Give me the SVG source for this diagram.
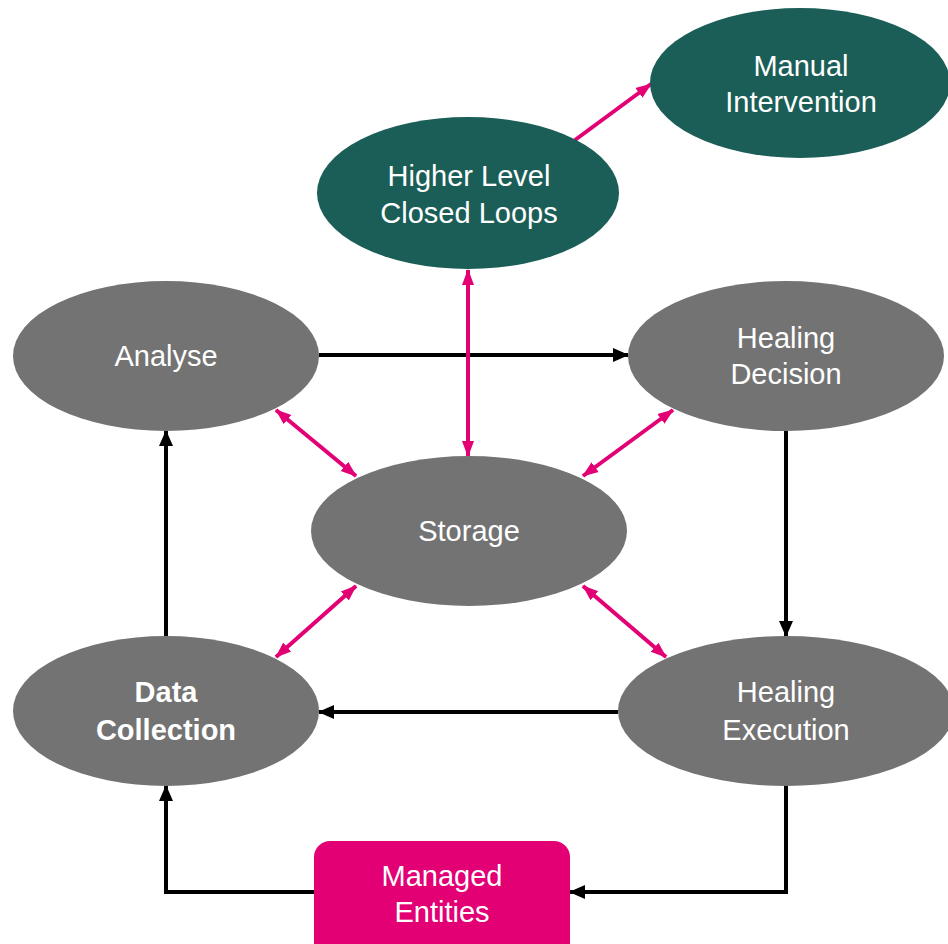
<svg xmlns="http://www.w3.org/2000/svg" width="948" height="944" viewBox="0 0 948 944">
  <style>
    .grey { fill: #737373; }
    .teal { fill: #1b5e57; }
    .pink { fill: #e20074; }
    .label { fill: #ffffff; font-family: "Liberation Sans Narrow", "Liberation Sans", Arial, sans-serif; font-size: 29px; text-anchor: middle; }
    .bold { font-weight: bold; }
    .flow { fill: none; stroke: #000000; stroke-width: 4; }
    .link { fill: none; stroke: #e20074; stroke-width: 4; }
  </style>
  <defs>
    <marker id="arrowBlack" markerUnits="userSpaceOnUse" markerWidth="16" markerHeight="16" viewBox="0 0 16 16" refX="15" refY="8" orient="auto">
      <path d="M0,1 L16,8 L0,15 Z" fill="#000000"/>
    </marker>
    <marker id="arrowPink" markerUnits="userSpaceOnUse" markerWidth="16" markerHeight="14" viewBox="0 0 16 14" refX="15" refY="7" orient="auto-start-reverse">
      <path d="M0,1 L16,7 L0,13 Z" fill="#e20074"/>
    </marker>
  </defs>

  <g id="connectors">
    <!-- main healing loop -->
    <line class="flow" x1="319" y1="355" x2="628" y2="355" marker-end="url(#arrowBlack)"/>
    <line class="flow" x1="786" y1="431" x2="786" y2="636" marker-end="url(#arrowBlack)"/>
    <line class="flow" x1="618" y1="712" x2="319" y2="712" marker-end="url(#arrowBlack)"/>
    <line class="flow" x1="166" y1="636" x2="166" y2="431" marker-end="url(#arrowBlack)"/>
    <polyline class="flow" points="786,786 786,892 570,892" marker-end="url(#arrowBlack)"/>
    <polyline class="flow" points="314,892 166,892 166,786" marker-end="url(#arrowBlack)"/>
    <!-- storage links -->
    <line class="link" x1="468" y1="270" x2="468" y2="456" marker-start="url(#arrowPink)" marker-end="url(#arrowPink)"/>
    <line class="link" x1="276" y1="410" x2="356" y2="476" marker-start="url(#arrowPink)" marker-end="url(#arrowPink)"/>
    <line class="link" x1="673" y1="410" x2="583" y2="476" marker-start="url(#arrowPink)" marker-end="url(#arrowPink)"/>
    <line class="link" x1="356" y1="586" x2="276" y2="657" marker-start="url(#arrowPink)" marker-end="url(#arrowPink)"/>
    <line class="link" x1="583" y1="586" x2="666" y2="657" marker-start="url(#arrowPink)" marker-end="url(#arrowPink)"/>
    <line class="link" x1="575" y1="140" x2="651" y2="84" marker-end="url(#arrowPink)"/>
  </g>

  <g id="manual-intervention">
    <ellipse class="teal" cx="800" cy="83" rx="150" ry="75"/>
    <text class="label" x="801" y="76">Manual</text>
    <text class="label" x="801" y="112">Intervention</text>
  </g>
  <g id="higher-level-closed-loops">
    <ellipse class="teal" cx="468" cy="193" rx="151" ry="76"/>
    <text class="label" x="469" y="186">Higher Level</text>
    <text class="label" x="469" y="223">Closed Loops</text>
  </g>
  <g id="analyse">
    <ellipse class="grey" cx="166" cy="356" rx="153" ry="75"/>
    <text class="label" x="166" y="366">Analyse</text>
  </g>
  <g id="healing-decision">
    <ellipse class="grey" cx="786" cy="356" rx="158" ry="75"/>
    <text class="label" x="786" y="348">Healing</text>
    <text class="label" x="786" y="384">Decision</text>
  </g>
  <g id="storage">
    <ellipse class="grey" cx="469" cy="531" rx="158" ry="75"/>
    <text class="label" x="469" y="541">Storage</text>
  </g>
  <g id="data-collection">
    <ellipse class="grey" cx="166" cy="711" rx="153" ry="75"/>
    <text class="label bold" x="166" y="702">Data</text>
    <text class="label bold" x="166" y="740">Collection</text>
  </g>
  <g id="healing-execution">
    <ellipse class="grey" cx="786" cy="711" rx="168" ry="75"/>
    <text class="label" x="786" y="702">Healing</text>
    <text class="label" x="786" y="740">Execution</text>
  </g>
  <g id="managed-entities">
    <rect class="pink" x="314" y="841" width="256" height="120" rx="16"/>
    <text class="label" x="442" y="886">Managed</text>
    <text class="label" x="442" y="922">Entities</text>
  </g>
</svg>
